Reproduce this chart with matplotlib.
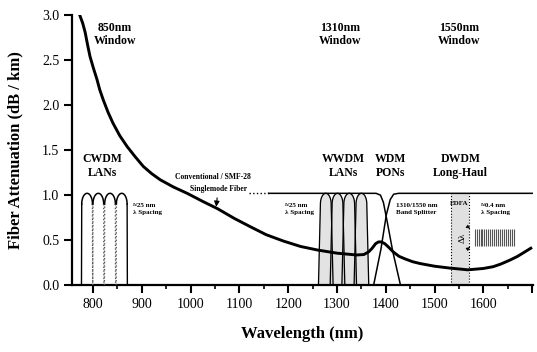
import matplotlib
matplotlib.use('Agg')
import matplotlib.pyplot as plt
import numpy as np

# attenuation curve (nm, dB/km)
wl = [773, 779, 784, 789, 794, 801, 808, 814, 821, 831, 841, 855, 870, 886,
      903, 920, 938, 965, 993, 1025, 1055, 1090, 1122, 1155, 1190, 1225,
      1260, 1300, 1340, 1355, 1365, 1372, 1379, 1385, 1391, 1398, 1406,
      1415, 1427, 1440, 1455, 1470, 1500, 1530, 1568, 1600, 1620, 1636,
      1655, 1670, 1685, 1697]
att = [3.0, 2.91, 2.81, 2.67, 2.54, 2.41, 2.29, 2.17, 2.06, 1.92, 1.80,
       1.66, 1.54, 1.43, 1.32, 1.24, 1.17, 1.09, 1.02, 0.93, 0.85, 0.74,
       0.65, 0.56, 0.49, 0.43, 0.39, 0.355, 0.335, 0.34, 0.37, 0.41, 0.46,
       0.48, 0.48, 0.46, 0.42, 0.37, 0.32, 0.29, 0.26, 0.24, 0.21, 0.19,
       0.17, 0.185, 0.205, 0.235, 0.28, 0.32, 0.37, 0.41]

cwdm_centers = [788, 811, 835, 859]
wwdm_centers = [1277, 1301, 1325, 1350]

# band splitter edges
split_a_x = [1160, 1380, 1389, 1395, 1403, 1414, 1430]
split_a_y = [1.02, 1.02, 1.0, 0.92, 0.70, 0.38, 0.0]
split_b_x = [1375, 1390, 1401, 1409, 1416, 1426, 1702]
split_b_y = [0.0, 0.40, 0.78, 0.95, 1.01, 1.02, 1.02]

edfa_band = (1533, 1570)
comb = [1582, 1586, 1590, 1594, 1598, 1602, 1606, 1610, 1614, 1618, 1622,
        1626, 1630, 1634, 1638, 1642, 1646, 1650, 1654, 1658, 1662]

plt.rcParams['font.family'] = ['Liberation Serif', 'DejaVu Serif']

fig = plt.figure(figsize=(5.37, 3.52), dpi=100)
ax = fig.add_axes([0.134, 0.19, 0.859, 0.767])


def bump(c, w, flare, top=1.02, r=0.12):
    t = np.linspace(np.pi, 0, 40)
    xs = np.concatenate([[c - w - flare], c + w * np.cos(t), [c + w + flare]])
    ys = np.concatenate([[0], top - r + r * np.sin(t), [0]])
    return xs, ys


# CWDM filters
for i, c in enumerate(cwdm_centers):
    xs, ys = bump(c, 11, 0.5)
    ax.fill(xs, ys, color='white', zorder=2)
    ax.plot(xs[1:-1], ys[1:-1], color='black', lw=1.1, zorder=3)
    ls_l = '-' if i == 0 else ':'
    ls_r = '-' if i == len(cwdm_centers) - 1 else ':'
    ax.plot(xs[:2], ys[:2], color='black' if ls_l == '-' else '#555555', lw=1.0, ls=ls_l, zorder=3)
    ax.plot(xs[-2:], ys[-2:], color='black' if ls_r == '-' else '#555555', lw=1.0, ls=ls_r, zorder=3)

# WWDM filters
for c in wwdm_centers:
    xs, ys = bump(c, 11, 4)
    ax.fill(xs, ys, color='#c8c8c8', alpha=0.5, zorder=2)
    ax.plot(xs, ys, color='black', lw=0.9, zorder=3)

# EDFA band
ax.fill_between(edfa_band, 0, 1.02, color='#d4d4d4', alpha=0.7, lw=0, zorder=1)
for x in edfa_band:
    ax.plot([x, x], [0, 1.02], color='black', lw=0.8, ls=':', zorder=3)

# splitter + SMF line
ax.plot(split_a_x, split_a_y, color='black', lw=1.1, zorder=3)
ax.plot(split_b_x, split_b_y, color='black', lw=1.1, zorder=3)
ax.plot([1120, 1160], [1.02, 1.02], color='black', lw=1.0, ls=':', zorder=3)

# DWDM comb
ax.vlines(comb, 0.43, 0.62, color='#555555', lw=0.8, zorder=3)
ax.text(1558, 0.52, 'Δλ', rotation=90, ha='center', va='center', fontsize=6.5, zorder=4)
for yv in (0.61, 0.44):
    ax.annotate('', xy=(1577, yv), xytext=(1567, yv + (0.04 if yv > 0.5 else -0.04)),
                arrowprops=dict(arrowstyle='-|>', lw=0.6, color='black', mutation_scale=5))

# attenuation curve
ax.plot(wl, att, color='black', lw=2.1, zorder=5, solid_joinstyle='round')

# labels
bold = dict(fontweight='bold', ha='center', va='center', fontsize=8.5)
ax.text(845, 2.78, '850nm\nWindow', linespacing=1.1, **bold)
ax.text(1307, 2.78, '1310nm\nWindow', linespacing=1.1, **bold)
ax.text(1550, 2.78, '1550nm\nWindow', linespacing=1.1, **bold)
ax.text(820, 1.32, 'CWDM\nLANs', linespacing=1.2, **bold)
ax.text(1313, 1.32, 'WWDM\nLANs', linespacing=1.2, **bold)
ax.text(1410, 1.32, 'WDM\nPONs', linespacing=1.2, **bold)
ax.text(1553, 1.32, 'DWDM\nLong-Haul', linespacing=1.2, **bold)

ax.text(1045, 1.20, 'Conventional / SMF-28', fontsize=5.5, fontweight='bold', ha='center', va='center')
ax.text(1116, 1.07, 'Singlemode Fiber', fontsize=5.5, fontweight='bold', ha='right', va='center')
ax.annotate('', xy=(1052, 0.84), xytext=(1055, 1.0),
            arrowprops=dict(arrowstyle='-|>', lw=0.8, color='black', mutation_scale=8), zorder=6)

small = dict(fontsize=5, fontweight='bold', ha='left', va='center', linespacing=1.5)
ax.text(882, 0.85, '≈25 nm\nλ Spacing', **small)
ax.text(1194, 0.85, '≈25 nm\nλ Spacing', **small)
ax.text(1420, 0.85, '1310/1550 nm\nBand Splitter', **small)
ax.text(1595, 0.85, '≈0.4 nm\nλ Spacing', **small)
ax.text(1551, 0.91, 'EDFA', fontsize=5, fontweight='bold', ha='center', va='center')

ax.set_xlim(757, 1702)
ax.set_ylim(0, 3.0)
ax.set_xticks([800, 900, 1000, 1100, 1200, 1300, 1400, 1500, 1600, 1700])
ax.set_xticklabels(['800', '900', '1000', '1100', '1200', '1300', '1400', '1500', '1600', ''])
ax.set_xticks([850, 950, 1050, 1150, 1250, 1350, 1450, 1550, 1650], minor=True)
ax.set_yticks([0, 0.5, 1.0, 1.5, 2.0, 2.5, 3.0])
ax.set_yticklabels(['0.0', '0.5', '1.0', '1.5', '2.0', '2.5', '3.0'])
ax.tick_params(axis='both', which='major', direction='out', length=5.5, width=1.5, labelsize=10)
ax.tick_params(axis='x', which='minor', direction='out', length=3, width=1.2)
for s in ('top', 'right'):
    ax.spines[s].set_visible(False)
for s in ('left', 'bottom'):
    ax.spines[s].set_linewidth(1.6)

ax.set_xlabel('Wavelength (nm)', fontsize=12, fontweight='bold')
ax.set_ylabel('Fiber Attenuation (dB / km)', fontsize=12, fontweight='bold')
ax.xaxis.set_label_coords(0.5, -0.15)
ax.yaxis.set_label_coords(-0.105, 0.5)

fig.savefig('out.png', dpi=100)
